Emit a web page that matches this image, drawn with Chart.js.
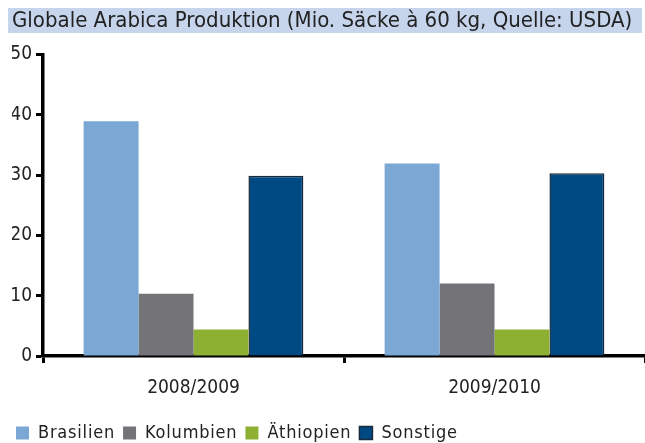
<!DOCTYPE html>
<html>
<head>
<meta charset="utf-8">
<script src="https://cdn.jsdelivr.net/npm/chart.js@4"></script>
<style>
  html, body { margin: 0; padding: 0; background: #fff; }
  #wrap { width: 645px; height: 443px; }
</style>
</head>
<body>
<div id="wrap"><canvas id="myChart" width="645" height="443"></canvas></div>
<script>
var categories = ['2008/2009', '2009/2010'];
var brasilien = [38.9, 31.9];
var kolumbien = [10.3, 12.0];
var aethiopien = [4.4, 4.4];
var sonstige = [29.9, 30.3];

var FONT = "'Liberation Sans Narrow', 'DejaVu Sans Condensed', 'Open Sans', sans-serif";

// paints the light blue band behind the title
var titleBand = {
    id: 'titleBand',
    beforeDraw: function (chart) {
        var c = chart.ctx;
        c.save();
        c.fillStyle = '#c6d5ec';
        c.fillRect(8, 8, 634, 25);
        c.restore();
    }
};

// legend: spaced-out letters, and sit it a bit lower / further left
var legendTweak = {
    id: 'legendTweak',
    beforeLayout: function (chart) {
        var lg = chart.legend;
        if (!lg || lg._spaced) return;
        lg._spaced = true;
        ['fit', 'draw'].forEach(function (m) {
            var f = lg[m];
            lg[m] = function () {
                var c = this.ctx;
                var prev = c.letterSpacing;
                c.letterSpacing = '0.8px';
                var r = f.apply(this, arguments);
                c.letterSpacing = prev;
                return r;
            };
        });
    },
    afterLayout: function (chart) {
        chart.legend.top += 9;
        chart.legend.bottom += 9;
        chart.legend.left -= 4;
    }
};

var ctx = document.getElementById('myChart').getContext('2d');
var myChart = new Chart(ctx, {
    type: 'bar',
    data: {
        labels: categories,
        datasets: [
            { label: 'Brasilien', data: brasilien, backgroundColor: '#7ba7d4' },
            { label: 'Kolumbien', data: kolumbien, backgroundColor: '#747378' },
            { label: 'Äthiopien', data: aethiopien, backgroundColor: '#8db033' },
            { label: 'Sonstige', data: sonstige, backgroundColor: '#004a84',
              borderColor: '#1a2a3a', borderWidth: 1.5 }
        ]
    },
    options: {
        responsive: false,
        animation: false,
        layout: { padding: { left: 12, right: 0, top: 0, bottom: 0 } },
        datasets: {
            bar: { barPercentage: 1.0, categoryPercentage: 0.73 }
        },
        plugins: {
            title: {
                display: true,
                align: 'start',
                text: 'Globale Arabica Produktion (Mio. Säcke à 60 kg, Quelle: USDA)',
                color: '#222',
                font: { family: FONT, size: 22, weight: 'normal' },
                padding: { top: 8, bottom: 20 }
            },
            legend: {
                position: 'bottom',
                align: 'start',
                labels: {
                    boxWidth: 13,
                    boxHeight: 13,
                    color: '#222',
                    padding: 8,
                    font: { family: FONT, size: 18 }
                }
            },
            tooltip: { enabled: false }
        },
        scales: {
            x: {
                afterFit: function (s) { s.height = 51; },
                grid: { drawOnChartArea: false, tickLength: 7, tickWidth: 3, tickColor: '#000', offset: true },
                border: { color: '#000', width: 3.5 },
                ticks: { color: '#222', font: { family: FONT, size: 19 }, padding: 14 }
            },
            y: {
                min: 0,
                max: 50,
                afterFit: function (s) { s.width = 31; },
                grid: { drawOnChartArea: false, tickLength: 7, tickWidth: 3, tickColor: '#000' },
                border: { color: '#000', width: 3.5 },
                ticks: { stepSize: 10, color: '#222', font: { family: FONT, size: 19 }, padding: 4 }
            }
        }
    },
    plugins: [titleBand, legendTweak]
});
</script>
</body>
</html>
